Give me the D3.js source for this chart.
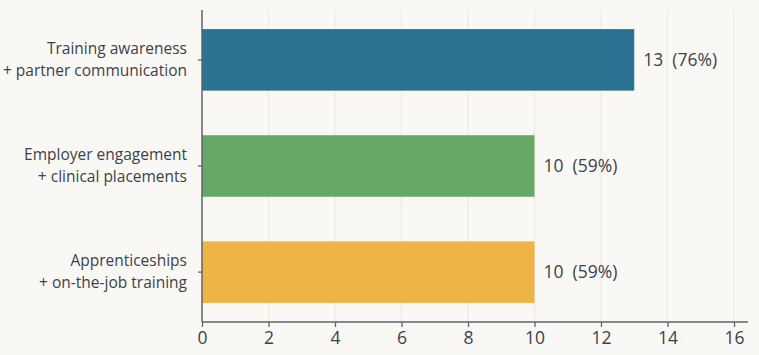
<!DOCTYPE html>
<html>
<head>
<meta charset="utf-8">
<script src="https://cdn.jsdelivr.net/npm/d3@7"></script>
<style>
  html, body { margin: 0; padding: 0; background: #faf8f4; }
  svg { display: block; }
  text { font-family: "Open Sans", sans-serif; fill: #3b424a; }
</style>
</head>
<body>
<svg id="chart" width="759" height="355"></svg>
<script>
const categories = [
  ["Training awareness", "+ partner communication"],
  ["Employer engagement", "+ clinical placements"],
  ["Apprenticeships", "+ on-the-job training"]
];
const counts = [13, 10, 10];
const total = 17;
const colors = ["#2b7293", "#66a866", "#f0b346"];
const xTicks = [0, 2, 4, 6, 8, 10, 12, 14, 16];

const svg = d3.select("#chart");
const x = d3.scaleLinear().domain([0, 16]).range([202, 734]);
const y = d3.scaleBand().domain(d3.range(categories.length)).range([10, 322])
  .paddingInner(0.42).paddingOuter(0.18);

// gridlines
svg.append("g").selectAll("line").data(xTicks.slice(1)).join("line")
  .attr("x1", d => x(d)).attr("x2", d => x(d))
  .attr("y1", 10).attr("y2", 322)
  .attr("stroke", "#ebe7e1").attr("stroke-width", 1);

// bars
svg.append("g").selectAll("rect").data(counts).join("rect")
  .attr("x", x(0))
  .attr("y", (d, i) => y(i))
  .attr("width", d => x(d) - x(0))
  .attr("height", y.bandwidth())
  .attr("fill", (d, i) => colors[i]);

// value labels
svg.append("g").selectAll("text").data(counts).join("text")
  .attr("x", d => x(d) + 9)
  .attr("y", (d, i) => y(i) + y.bandwidth() / 2)
  .attr("dy", "0.35em")
  .attr("font-size", 17.5)
  .attr("xml:space", "preserve")
  .text(d => `${d}  (${Math.round(d / total * 100)}%)`);

// x axis
const xAxis = d3.axisBottom(x).tickValues(xTicks).tickSize(5).tickPadding(5);
const gx = svg.append("g").attr("transform", "translate(0,322)").call(xAxis);
gx.select(".domain").remove();
gx.selectAll(".tick line").attr("stroke", "#5d646c").attr("stroke-width", 1.3);
gx.selectAll(".tick text").attr("font-size", 17.5).attr("fill", "#3b424a")
  .style("font-family", "'Open Sans', sans-serif");
svg.append("line").attr("x1", x(0)).attr("x2", 748).attr("y1", 322).attr("y2", 322)
  .attr("stroke", "#5d646c").attr("stroke-width", 1.5);

// y axis
const yAxis = d3.axisLeft(y).tickSize(4).tickFormat("");
const gy = svg.append("g").attr("transform", `translate(${x(0)},0)`).call(yAxis);
gy.select(".domain").remove();
gy.selectAll(".tick line").attr("stroke", "#5d646c").attr("stroke-width", 1.3);
svg.append("line").attr("x1", x(0)).attr("x2", x(0)).attr("y1", 10).attr("y2", 322)
  .attr("stroke", "#5d646c").attr("stroke-width", 1.5);

// category labels
const lab = svg.append("g").selectAll("text").data(categories).join("text")
  .attr("text-anchor", "end")
  .attr("font-size", 15.5)
  .attr("x", 187)
  .attr("y", (d, i) => y(i) + y.bandwidth() / 2);
lab.selectAll("tspan").data(d => d).join("tspan")
  .attr("x", 187)
  .attr("dy", (d, j) => j === 0 ? "-0.4em" : "1.45em")
  .text(d => d);
</script>
</body>
</html>
